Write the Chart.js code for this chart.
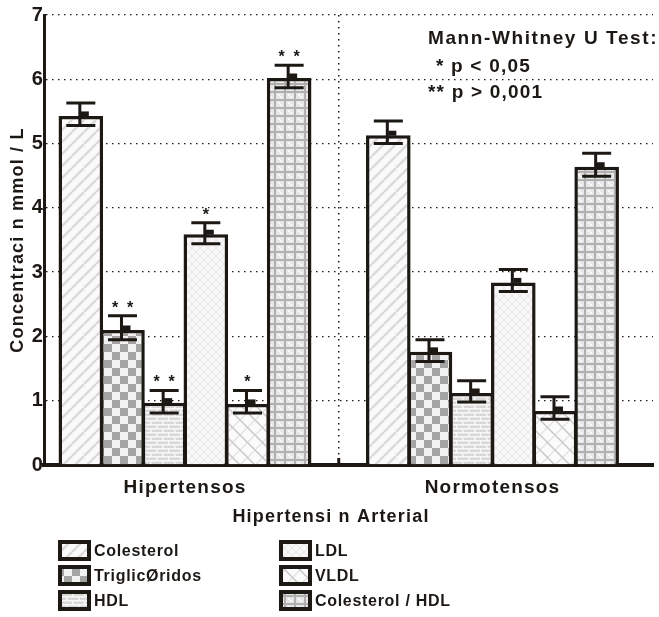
<!DOCTYPE html>
<html>
<head>
<meta charset="utf-8">
<script src="https://cdn.jsdelivr.net/npm/chart.js@4.4.1/dist/chart.umd.min.js"></script>
<style>
  html, body { margin: 0; padding: 0; background: #fff; }
  canvas { display: block; }
</style>
</head>
<body>
<canvas id="chart" width="659" height="617"></canvas>
<script>
// ---- values ----
const categories = ['Hipertensos', 'Normotensos'];
const seriesNames = ['Colesterol', 'TriglicØridos', 'HDL', 'LDL', 'VLDL', 'Colesterol / HDL'];

const hiperMean  = [5.43, 2.10, 0.97, 3.59, 0.95, 6.02];
const hiperUpper = [5.63, 2.32, 1.16, 3.77, 1.16, 6.22];
const hiperLower = [5.28, 1.95, 0.81, 3.44, 0.81, 5.87];
const hiperSig   = ['', '* *', '* *', '*', '*', '* *'];

const normoMean  = [5.13, 1.76, 1.12, 2.84, 0.84, 4.64];
const normoUpper = [5.35, 1.95, 1.31, 3.04, 1.06, 4.85];
const normoLower = [5.00, 1.61, 0.98, 2.70, 0.71, 4.49];
const normoSig   = ['', '', '', '', '', ''];

const yMin = 0, yMax = 7, yStep = 1;

const xTitle = 'Hipertensi n Arterial';
const yTitle = 'Concentraci n mmol / L';
const testTitle = 'Mann-Whitney U Test:';
const testLines = ['* p < 0,05', '** p > 0,001'];

const INK = '#1c1814';
const FONT = "'Liberation Sans', Arial, sans-serif";

// =======================
// fill patterns
// =======================
function tile(w, h, draw) {
  const c = document.createElement('canvas');
  c.width = w; c.height = h;
  draw(c.getContext('2d'), w, h);
  return c.getContext('2d').createPattern(c, 'repeat');
}

function diag(g, s, dir) {
  for (let k = -s; k <= s; k += s) {
    g.beginPath();
    if (dir > 0) { g.moveTo(k, s); g.lineTo(k + s, 0); }
    else { g.moveTo(k, 0); g.lineTo(k + s, s); }
    g.stroke();
  }
}

const patterns = [
  // Colesterol : diagonal stripes
  tile(12, 12, (g, w, h) => {
    g.fillStyle = '#fafafa'; g.fillRect(0, 0, w, h);
    g.strokeStyle = '#dadada'; g.lineWidth = 2.5; diag(g, 12, 1);
  }),
  // Triglicéridos : checkerboard
  tile(16, 16, (g, w, h) => {
    g.fillStyle = '#f2f2f2'; g.fillRect(0, 0, w, h);
    g.fillStyle = '#a4a4a4'; g.fillRect(0, 0, 8, 8); g.fillRect(8, 8, 8, 8);
  }),
  // HDL : bricks
  tile(12, 8, (g, w, h) => {
    g.fillStyle = '#d8d8d8'; g.fillRect(0, 0, w, h);
    g.fillStyle = '#f8f8f8';
    g.fillRect(0, 0, 12, 1.5); g.fillRect(0, 4, 12, 1.5);
    g.fillRect(0, 0, 1.5, 4); g.fillRect(6, 4, 1.5, 4);
  }),
  // LDL : faint cross hatch
  tile(8, 8, (g, w, h) => {
    g.fillStyle = '#f8f8f8'; g.fillRect(0, 0, w, h);
    g.strokeStyle = '#e6e6e6'; g.lineWidth = 1; diag(g, 8, 1); diag(g, 8, -1);
  }),
  // VLDL : open cross hatch
  tile(15, 15, (g, w, h) => {
    g.fillStyle = '#fbfbfb'; g.fillRect(0, 0, w, h);
    g.strokeStyle = '#dedede'; g.lineWidth = 1.2; diag(g, 15, 1);
    g.strokeStyle = '#c8c8c8'; g.lineWidth = 1.5; diag(g, 15, -1);
  }),
  // Colesterol / HDL : woven grid
  tile(10, 8, (g, w, h) => {
    g.fillStyle = '#e6e6e6'; g.fillRect(0, 0, w, h);
    g.fillStyle = '#b0b0b0';
    g.fillRect(4, 0, 2, 8); g.fillRect(0, 3, 10, 2);
    g.fillStyle = '#f8f8f8';
    g.fillRect(0, 0, 2, 2); g.fillRect(8, 6, 2, 2);
  })
];

// =======================
// decorations : errors, stars, divider, legend
// =======================
const decor = {
  id: 'decor',
  beforeDraw(chart) {
    chart.ctx.letterSpacing = '1.2px';
  },
  beforeDatasetsDraw(chart) {
    const { ctx, chartArea } = chart;
    const x = chart.scales.x.getPixelForValue(0.5);
    ctx.save();
    ctx.strokeStyle = INK;
    ctx.lineWidth = 1.5;
    ctx.setLineDash([1.5, 4.5]);
    ctx.beginPath();
    ctx.moveTo(x, chartArea.top);
    ctx.lineTo(x, chartArea.bottom - 8);
    ctx.stroke();
    ctx.setLineDash([]);
    ctx.lineWidth = 3;
    ctx.beginPath();
    ctx.moveTo(x, chartArea.bottom - 7);
    ctx.lineTo(x, chartArea.bottom);
    ctx.stroke();
    ctx.restore();
  },
  afterDatasetsDraw(chart) {
    const { ctx } = chart;
    const y = chart.scales.y;
    const uppers = [hiperUpper, normoUpper];
    const lowers = [hiperLower, normoLower];
    const sigs = [hiperSig, normoSig];
    ctx.save();
    ctx.letterSpacing = '0px';
    chart.data.datasets.forEach((ds, d) => {
      chart.getDatasetMeta(d).data.forEach((bar, j) => {
        const cx = bar.x;
        const yHi = y.getPixelForValue(uppers[j][d]);
        const yLo = y.getPixelForValue(lowers[j][d]);
        ctx.strokeStyle = INK;
        ctx.fillStyle = INK;
        ctx.lineWidth = 3;
        ctx.beginPath();
        ctx.moveTo(cx - 1, yHi); ctx.lineTo(cx - 1, yLo);
        ctx.moveTo(cx - 14.5, yHi); ctx.lineTo(cx + 14.5, yHi);
        ctx.moveTo(cx - 14.5, yLo); ctx.lineTo(cx + 14.5, yLo);
        ctx.stroke();
        ctx.fillRect(cx, bar.y - 4.5, 8, 5);

        const n = sigs[j][d].replace(/ /g, '').length;
        ctx.font = 'bold 16px ' + FONT;
        ctx.textAlign = 'center';
        ctx.textBaseline = 'alphabetic';
        for (let k = 0; k < n; k++) {
          ctx.fillText('*', cx + (k - (n - 1) / 2) * 15, yHi - 3);
        }
      });
    });
    ctx.restore();
  },
  afterDraw(chart) {
    const { ctx } = chart;
    ctx.save();
    ctx.fillStyle = INK;
    ctx.textBaseline = 'alphabetic';

    // x axis title
    ctx.font = 'bold 18px ' + FONT;
    ctx.letterSpacing = '1.2px';
    ctx.textAlign = 'center';
    ctx.fillText(xTitle, 331, 521.5);

    // test note
    ctx.textAlign = 'left';
    ctx.font = 'bold 19px ' + FONT;
    ctx.letterSpacing = '1.6px';
    ctx.fillText(testTitle, 428, 44);
    ctx.letterSpacing = '1.2px';
    ctx.fillText(testLines[0], 436, 71.5);
    ctx.fillText(testLines[1], 428, 97.5);

    // legend, two columns of three
    ctx.font = 'bold 16px ' + FONT;
    ctx.letterSpacing = '0.7px';
    ctx.textBaseline = 'middle';
    const colX = [58, 279];
    const rowY = [540, 565, 590];
    chart.data.datasets.forEach((ds, i) => {
      const bx = colX[Math.floor(i / 3)];
      const by = rowY[i % 3];
      ctx.fillStyle = ds.backgroundColor;
      ctx.fillRect(bx, by, 33, 21);
      ctx.strokeStyle = INK;
      ctx.lineWidth = 4;
      ctx.strokeRect(bx + 2, by + 2, 29, 17);
      ctx.fillStyle = INK;
      ctx.fillText(ds.label, bx + 36, by + 11.5);
    });
    ctx.restore();
  }
};

// =======================
// chart
// =======================
const datasets = seriesNames.map((name, i) => ({
  label: name,
  data: categories.map((c, j) => ({ x: j, y: [hiperMean, normoMean][j][i] })),
  backgroundColor: patterns[i],
  borderColor: INK,
  borderWidth: 3.5,
  categoryPercentage: 0.813,
  barPercentage: 1.07
}));

new Chart(document.getElementById('chart'), {
  type: 'bar',
  data: { datasets },
  plugins: [decor],
  options: {
    responsive: false,
    animation: false,
    events: [],
    layout: { padding: { top: 15, right: 6, bottom: 90, left: 0 } },
    plugins: {
      legend: { display: false },
      tooltip: { enabled: false }
    },
    scales: {
      x: {
        type: 'linear',
        offset: false,
        bounds: 'data',
        min: -0.4585,
        max: 1.522,
        afterBuildTicks: s => { s.ticks = categories.map((c, i) => ({ value: i })); },
        afterFit: s => { s.height = 62; },
        grid: { display: false, offset: false },
        border: { display: true, color: INK, width: 4 },
        ticks: {
          callback: v => categories[v],
          color: INK,
          padding: 3,
          autoSkip: false,
          maxRotation: 0,
          font: { family: FONT, size: 19, weight: 'bold' }
        }
      },
      y: {
        min: yMin,
        max: yMax,
        afterFit: s => { s.width = 44; },
        grid: { color: INK, lineWidth: 1.3, drawTicks: false },
        border: { display: true, color: INK, width: 3, dash: [1.5, 4.5] },
        ticks: {
          stepSize: yStep,
          color: INK,
          padding: 0,
          font: { family: FONT, size: 20, weight: 'bold' }
        },
        title: {
          display: true,
          text: yTitle,
          color: INK,
          padding: { top: 7, bottom: 0 },
          font: { family: FONT, size: 18, weight: 'bold' }
        }
      }
    }
  }
});
</script>
</body>
</html>
